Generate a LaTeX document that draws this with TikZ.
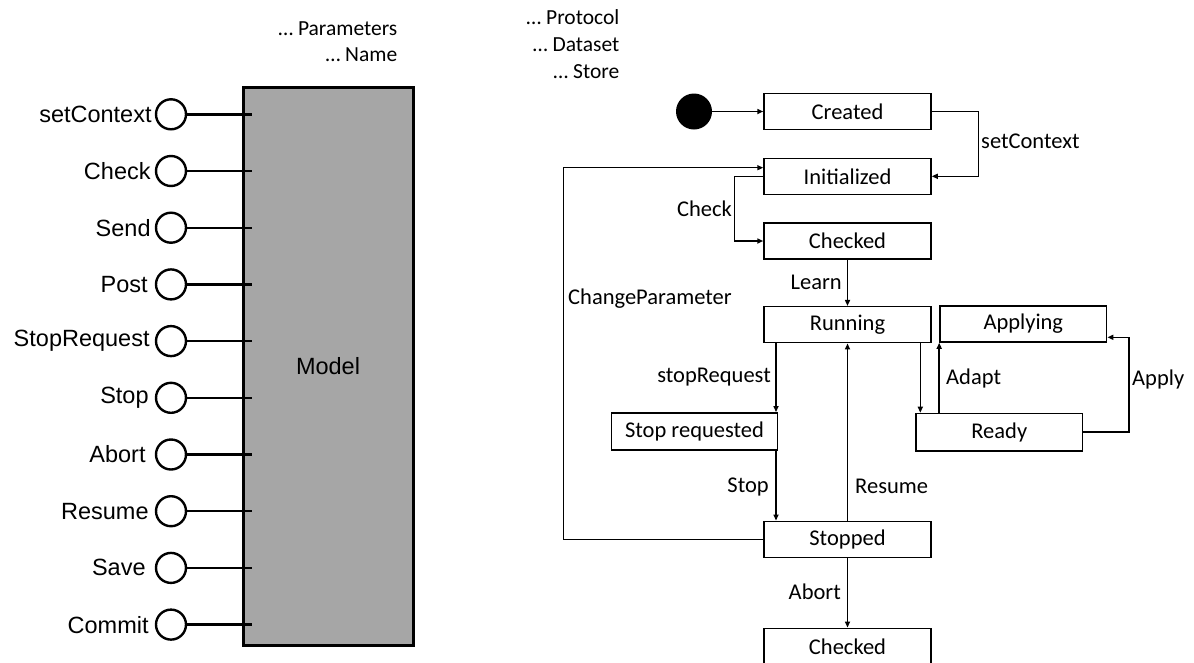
\documentclass[tikz,border=0pt]{standalone}
\usepackage{fontspec}
\setmainfont{Carlito}
\newfontfamily\portfont{Liberation Sans}
\usetikzlibrary{arrows.meta,calc}
\definecolor{modelgray}{HTML}{A6A6A6}
\begin{document}
\begin{tikzpicture}[x=1pt,y=-1pt,
  state/.style={draw,line width=1.5pt,minimum width=167pt,minimum height=36pt,inner sep=0pt,
    font=\fontsize{22.5}{27}\selectfont},
  arr/.style={line width=1.5pt,-{Triangle[length=6pt,width=5pt]}},
  lbl/.style={font=\fontsize{22.5}{27}\selectfont,inner sep=0pt},
  toplbl/.style={font=\fontsize{21.5}{26}\selectfont,inner sep=0pt,anchor=east},
  port/.style={circle,draw,line width=2.4pt,minimum size=30pt,inner sep=0pt},
  portlbl/.style={font=\portfont\fontsize{23.5}{28}\selectfont,inner sep=0pt,anchor=east},
  wire/.style={line width=2.4pt},
]
\useasboundingbox (0,0) rectangle (1194,662);
\clip (0,0) rectangle (1194,662);
\fill[white] (0,0) rectangle (1194,662);

% ---- component with its provided interfaces ----
\node[toplbl] (tparams) at (397.5,28.3) {… Parameters};
\node[toplbl] (tname) at (397.5,55) {… Name};

\node[draw,line width=3pt,fill=modelgray,minimum width=170pt,minimum height=557.7pt,inner sep=0pt,
      font=\portfont\fontsize{23.5}{28}\selectfont] (model) at (328,366.2) {Model};

\foreach \t/\g [count=\i from 0] in {setContext/3,Check/4,Send/4,Post/7,StopRequest/5,
                                     Stop/6,Abort/9,Resume/6,Save/9,Commit/6}{
  \node[port] (p\i) at (171,114.3+56.7*\i) {};
  \node[portlbl] (l\i) at ([xshift=-\g pt]p\i.west) {\t};
  \draw[wire] (p\i.east) -- ([xshift=10pt]model.west |- p\i);
}

% ---- state machine ----
\node[toplbl] (tproto) at (619.5,16.7) {… Protocol};
\node[toplbl] (tdata) at (619.5,45) {… Dataset};
\node[toplbl] (tstore) at (619.5,71.7) {… Store};

\node[circle,fill,minimum size=36pt,inner sep=0pt] (init) at (694,111.5) {};

\node[state] (created) at (847.5,111.3) {Created};
\node[state] (initialized) at (847.5,176.3) {Initialized};
\node[state] (checked) at (847.5,241) {Checked};
\node[state] (running) at (847.5,324.7) {Running};
\node[state,minimum width=165.6pt,minimum height=37pt] (stopreq) at (694.5,431.3) {Stop requested};
\node[state] (stopped) at (847.5,539.3) {Stopped};
\node[state] (checkedB) at (847.5,646.3) {Checked};
\node[state,minimum width=166.7pt] (applying) at (1023.3,324) {Applying};
\node[state,minimum width=166.7pt,minimum height=37.5pt] (ready) at (999.3,432.2) {Ready};

\coordinate (srx) at (776,0);
\coordinate (rrx) at (920.3,0);
\coordinate (cpx) at (563.3,0);
\coordinate (cpin) at ([yshift=8.6pt]initialized.west);

\draw[arr] (init.east) -- (created.west |- init.east);

\draw[arr] (created.east) -- ++(46.7,0) |- (initialized.east);
\node[lbl,anchor=west] (lset) at (981,141.7) {setContext};

\draw[arr] (stopped.west) -| (cpx |- cpin) -- (cpin);
\node[lbl,anchor=west] (lcp) at (568,299) {ChangeParameter};

\draw[arr] (initialized.west) -- ++(-29,0) |- (checked.west);
\node[lbl,anchor=east] (lcheck) at (732,208.3) {Check};

\draw[arr] (checked.south) -- (running.north);
\node[lbl,anchor=east] (llearn) at (842,282.7) {Learn};

\draw[arr] (running.south -| srx) -- (stopreq.north -| srx);
\node[lbl,anchor=east] (lsr) at (771,376.7) {stopRequest};

\draw[arr] (stopreq.south -| srx) -- (stopped.north -| srx);
\node[lbl,anchor=east] (lstop) at (769,486.7) {Stop};

\draw[arr] (stopped.north) -- (running.south);
\node[lbl,anchor=west] (lresume) at (855,486.7) {Resume};

\draw[arr] (stopped.south) -- (checkedB.north);
\node[lbl,anchor=east] (labort) at (841,591.7) {Abort};

\draw[arr] (running.south -| rrx) -- (ready.north -| rrx);

\draw[arr] (ready.north -| applying.west) -- (applying.south west);
\node[lbl,anchor=west] (ladapt) at (946,378.3) {Adapt};

\draw[arr] (ready.east) -- ++(45.6,0) |- ([yshift=-13.3pt]applying.east);
\node[lbl,anchor=west] (lapply) at (1132,379.3) {Apply};
\end{tikzpicture}
\end{document}
